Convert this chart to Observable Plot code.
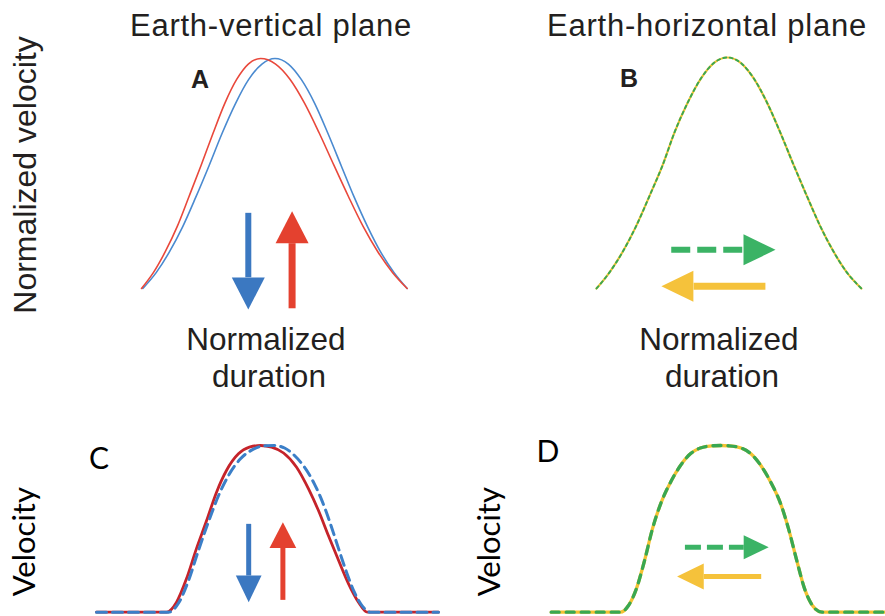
<!DOCTYPE html>
<html>
<head>
<meta charset="utf-8">
<script src="https://cdn.jsdelivr.net/npm/d3@7"></script>
<script src="https://cdn.jsdelivr.net/npm/@observablehq/plot@0.6"></script>
<style>
  body { margin: 0; background: #fff; }
  #fig { position: relative; width: 885px; height: 616px; overflow: hidden; background: #fff; }
  #fig svg { position: absolute; left: 0; top: 0; }
  .lbl { position: absolute; white-space: nowrap; line-height: 1; }
</style>
</head>
<body>
<div id="fig"></div>
<script>
// ---------------- DATA (normalized duration t: 0..100, normalized velocity v: 0..1) ----------------
// Panel A – Earth-vertical plane
const aBlueT = [0.5, 5.5, 10.4, 15.4, 20.3, 25.3, 30.2, 35.2, 40.1, 45.1, 50, 55, 59.9, 64.9, 69.8, 74.8, 79.7, 84.7, 89.6, 94.6, 99.5];
const aBlueV = [0, 0.069, 0.158, 0.268, 0.396, 0.534, 0.675, 0.804, 0.908, 0.976, 1, 0.976, 0.908, 0.804, 0.675, 0.534, 0.396, 0.268, 0.158, 0.069, 0];
const aRedT  = [0, 4.5, 8.9, 13.4, 17.8, 22.3, 26.8, 31.2, 35.7, 40.1, 44.6, 50.1, 55.6, 61.1, 66.6, 72.1, 77.5, 83.0, 88.5, 94.0, 99.5];
const aRedV  = [0, 0.07, 0.16, 0.27, 0.40, 0.535, 0.675, 0.805, 0.91, 0.977, 1, 0.977, 0.91, 0.805, 0.675, 0.535, 0.40, 0.27, 0.16, 0.07, 0];
// Panel B – Earth-horizontal plane
const bT = [0, 4.9, 9.9, 14.9, 19.9, 24.9, 29.3, 34.3, 39.3, 44.2, 49.2, 54.2, 59.1, 64.1, 69.1, 74.1, 79.1, 84.1, 89.1, 94.1, 99.6];
const bV = [0, 0.07, 0.16, 0.27, 0.40, 0.535, 0.675, 0.805, 0.91, 0.977, 1, 0.977, 0.91, 0.805, 0.675, 0.535, 0.40, 0.27, 0.16, 0.07, 0];
// Panel C – velocity profiles (vertical)
const cRedT  = [0, 20.5, 23.4, 26.3, 29.2, 32.2, 35.1, 38.0, 41.5, 44.7, 48.0, 51.2, 54.7, 58.5, 62.0, 64.9, 67.8, 70.8, 73.7, 76.6, 79.2, 100];
const cRedV  = [0, 0, 0.06, 0.20, 0.38, 0.55, 0.72, 0.85, 0.95, 0.99, 1.0, 0.99, 0.955, 0.87, 0.74, 0.61, 0.46, 0.31, 0.17, 0.06, 0, 0];
const cBlueT = [0, 21.1, 24.0, 26.9, 29.8, 32.7, 35.7, 38.6, 42.1, 45.6, 49.1, 52.0, 55.0, 57.9, 60.8, 63.7, 66.1, 68.4, 70.8, 73.1, 75.4, 77.8, 80.1, 100];
const cBlueV = [0, 0, 0.055, 0.19, 0.37, 0.54, 0.70, 0.82, 0.92, 0.975, 0.998, 1.0, 0.985, 0.94, 0.87, 0.77, 0.66, 0.53, 0.38, 0.24, 0.12, 0.035, 0, 0];
// Panel D – velocity profiles (horizontal)
const dT = [0, 20.3, 22.6, 24.9, 27.3, 29.6, 32.0, 34.9, 37.8, 40.7, 43.6, 47.0, 49.5, 52.0, 55.5, 58.4, 61.3, 64.2, 67.1, 69.4, 71.8, 74.1, 76.4, 79.2, 100];
const dV = [0, 0, 0.04, 0.14, 0.31, 0.50, 0.65, 0.78, 0.88, 0.95, 0.985, 0.998, 1, 0.998, 0.985, 0.95, 0.88, 0.78, 0.65, 0.50, 0.31, 0.14, 0.04, 0, 0];

// Direction arrows: tail, head base and tip, in the panel's data units
const aArrows = [
  {dir: "down", t1: 40.0, v1: 0.329, t2: 40.0, v2: 0.049, tt: 40.0, vt: -0.091},
  {dir: "up",   t1: 56.4, v1: -0.086, t2: 56.4, v2: 0.197, tt: 56.4, vt: 0.336}
];
const bArrows = [
  {dir: "right", t1: 28.1, v1: 0.1675, t2: 55.4, v2: 0.1675, tt: 67.3, vt: 0.1675},
  {dir: "left",  t1: 63.5, v1: 0.01,   t2: 36.5, v2: 0.01,   tt: 24.4, vt: 0.01}
];
const cArrows = [
  {dir: "down", t1: 44.5, v1: 0.530, t2: 44.5, v2: 0.220, tt: 44.5, vt: 0.06},
  {dir: "up",   t1: 54.5, v1: 0.074, t2: 54.5, v2: 0.386, tt: 54.5, vt: 0.54}
];
const dArrows = [
  {dir: "right", t1: 39.1, v1: 0.39,  t2: 56.3, v2: 0.39,  tt: 63.6, vt: 0.39},
  {dir: "left",  t1: 61.4, v1: 0.214, t2: 44.6, v2: 0.214, tt: 36.8, vt: 0.214}
];

// ---------------- helpers ----------------
const W = 885, H = 616;
const zip = (T, V) => T.map((t, i) => ({t, v: V[i]}));

function head(dir, len, wid) {
  const h = wid / 2;
  return {draw(ctx) {
    ctx.moveTo(0, 0);
    if (dir === "down") { ctx.lineTo(-h, -len); ctx.lineTo(h, -len); }
    else if (dir === "up") { ctx.lineTo(-h, len); ctx.lineTo(h, len); }
    else if (dir === "right") { ctx.lineTo(-len, -h); ctx.lineTo(-len, h); }
    else { ctx.lineTo(len, -h); ctx.lineTo(len, h); }
    ctx.closePath();
  }};
}

function arrow(a, color, shaft, len, wid, dash) {
  return [
    Plot.link([a], {x1: "t1", y1: "v1", x2: "t2", y2: "v2", stroke: color, strokeWidth: shaft,
      strokeLinecap: "butt", strokeDasharray: dash}),
    Plot.dot([a], {x: "tt", y: "vt", r: 5, symbol: head(a.dir, len, wid), fill: color, stroke: "none"})
  ];
}

function panel({x0, x1, y0, y1, xDomain, marks}) {
  return Plot.plot({
    width: W, height: H,
    marginLeft: x0, marginRight: W - x1, marginTop: y1, marginBottom: H - y0,
    x: {domain: xDomain, axis: null},
    y: {domain: [0, 1], axis: null},
    style: {background: "transparent", overflow: "visible"},
    marks
  });
}

const fig = document.getElementById("fig");

// colours
const lineRedA = "#e9483b", lineBlueA = "#4a8ad0";
const lineRedC = "#c5232a", lineBlueC = "#3b7fc8";
const yel = "#f4c233", grn = "#38a852";
const arrBlue = "#3b78c1", arrRed = "#e4412f", arrGreen = "#3bb365", arrYel = "#f5c23b";

// Panel A
fig.append(panel({x0: 141, x1: 408, y0: 288, y1: 58, xDomain: [0, 100], marks: [
  Plot.line(zip(aBlueT, aBlueV), {x: "t", y: "v", stroke: lineBlueA, strokeWidth: 1.6, curve: "monotone-x"}),
  Plot.line(zip(aRedT, aRedV), {x: "t", y: "v", stroke: lineRedA, strokeWidth: 1.6, curve: "monotone-x"}),
  ...arrow(aArrows[0], arrBlue, 6, 32, 33),
  ...arrow(aArrows[1], arrRed, 7, 32, 33)
]}));

// Panel B
fig.append(panel({x0: 596, x1: 862, y0: 288, y1: 57, xDomain: [0, 100], marks: [
  Plot.line(zip(bT, bV), {x: "t", y: "v", stroke: yel, strokeWidth: 2.2, curve: "monotone-x"}),
  Plot.line(zip(bT, bV), {x: "t", y: "v", stroke: grn, strokeWidth: 1.9, strokeDasharray: "3,3.5", curve: "monotone-x"}),
  ...arrow(bArrows[0], arrGreen, 6, 32, 31, "19,7"),
  ...arrow(bArrows[1], arrYel, 7, 32, 31)
]}));

// Panel C
fig.append(panel({x0: 96, x1: 438, y0: 611.7, y1: 445, xDomain: [0, 100], marks: [
  Plot.line(zip(cRedT, cRedV), {x: "t", y: "v", stroke: lineRedC, strokeWidth: 2.8, curve: "monotone-x"}),
  Plot.line(zip(cBlueT, cBlueV), {x: "t", y: "v", stroke: lineBlueC, strokeWidth: 3, strokeDasharray: "10,6", curve: "monotone-x"}),
  ...arrow(cArrows[0], arrBlue, 5, 26.7, 25.7),
  ...arrow(cArrows[1], arrRed, 5, 25.7, 26.7)
]}));

// Panel D (right edge cropped by the figure)
fig.append(panel({x0: 550.7, x1: 885, y0: 611.7, y1: 445, xDomain: [0, (885 - 550.7) / 3.42], marks: [
  Plot.line(zip(dT, dV), {x: "t", y: "v", stroke: yel, strokeWidth: 3.3, curve: "monotone-x"}),
  Plot.line(zip(dT, dV), {x: "t", y: "v", stroke: grn, strokeWidth: 3.3, strokeDasharray: "8,7", curve: "monotone-x"}),
  ...arrow(dArrows[0], arrGreen, 5, 25, 24, "16,6"),
  ...arrow(dArrows[1], arrYel, 5, 26.7, 26)
]}));

// ---------------- text ----------------
const FONTS = {
  lib: {family: "'Liberation Sans', Arial, Helvetica, sans-serif", k: 0.8465},
  lato: {family: "Lato, 'Open Sans', sans-serif", k: 0.887}
};
function label(text, {x, y, size, font = "lib", weight = 400, rotate = false, ls = 0, color = "#231f20"}) {
  const f = FONTS[font];
  const d = document.createElement("div");
  d.className = "lbl";
  d.textContent = text;
  d.style.fontFamily = f.family;
  d.style.fontSize = size + "px";
  d.style.fontWeight = weight;
  d.style.color = color;
  if (ls) d.style.letterSpacing = ls + "px";
  if (!rotate) {
    d.style.left = x + "px";
    d.style.top = (y - f.k * size) + "px";
    d.style.transform = "translateX(-50%)";
  } else {
    d.style.left = "0px";
    d.style.top = "0px";
    d.style.transformOrigin = "0 0";
    d.style.transform = `translate(${x - f.k * size}px, ${y}px) rotate(-90deg) translate(-50%, 0)`;
  }
  fig.append(d);
}

label("Earth-vertical plane", {x: 271, y: 36, size: 31, ls: 0.75});
label("Earth-horizontal plane", {x: 707, y: 36.5, size: 31, ls: 0.75});
label("Normalized velocity", {x: 36, y: 175, size: 32, rotate: true});
label("A", {x: 200, y: 88, size: 25, weight: 700});
label("B", {x: 629, y: 87.5, size: 25, weight: 700});
label("Normalized", {x: 266, y: 350.5, size: 31.5});
label("duration", {x: 269, y: 388, size: 31.5});
label("Normalized", {x: 719, y: 350.5, size: 31.5});
label("duration", {x: 722, y: 388, size: 31.5});
label("C", {x: 99, y: 469, size: 30, font: "lato", color: "#000"});
label("D", {x: 548, y: 462, size: 30, font: "lato", color: "#000"});
label("Velocity", {x: 35.5, y: 541.7, size: 31, font: "lato", rotate: true, color: "#000"});
label("Velocity", {x: 500, y: 541.7, size: 31, font: "lato", rotate: true, color: "#000"});
</script>
</body>
</html>
